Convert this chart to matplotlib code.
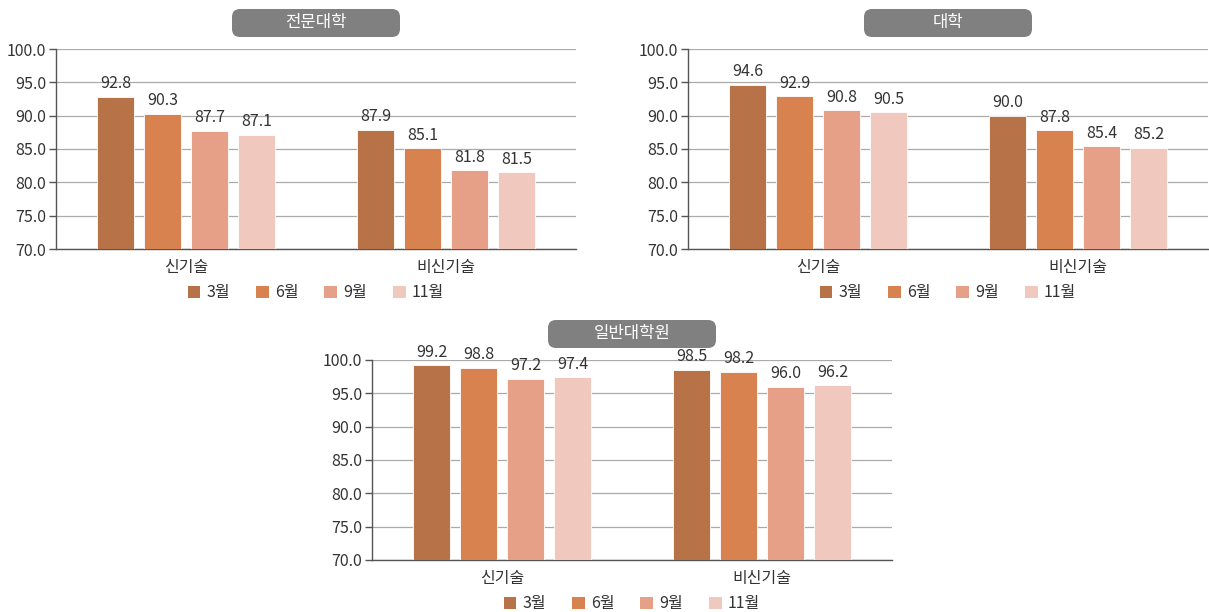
import matplotlib
matplotlib.use('Agg')
import matplotlib.pyplot as plt
from matplotlib.patches import FancyBboxPatch, Patch
from matplotlib.transforms import IdentityTransform
import numpy as np

plt.rcParams['font.family'] = ['Noto Sans CJK KR', 'DejaVu Sans']

categories = ['신기술', '비신기술']
months = ['3월', '6월', '9월', '11월']
colors = ['#B87248', '#D8834F', '#E6A088', '#F0C8BD']

panel_titles = ['전문대학', '대학', '일반대학원']
# values[month][category]
junior = [[92.8, 87.9], [90.3, 85.1], [87.7, 81.8], [87.1, 81.5]]
univ = [[94.6, 90.0], [92.9, 87.8], [90.8, 85.4], [90.5, 85.2]]
grad = [[99.2, 98.5], [98.8, 98.2], [97.2, 96.0], [97.4, 96.2]]
yticks = [70.0, 75.0, 80.0, 85.0, 90.0, 95.0, 100.0]

W, H = 1209, 612
fig = plt.figure(figsize=(W / 100, H / 100), dpi=100)

# axes rects in pixels: left, top-of-axis y (100.0), bottom y (70.0)
rects = [(56, 49, 249), (688, 49, 249), (372, 360, 560)]
axw = 520
txt = '#333333'
fs = 11.5


def draw_panel(rect, title, data):
    left, top, bot = rect
    ax = fig.add_axes([left / W, 1 - bot / H, axw / W, (bot - top) / H])
    x = np.arange(len(categories))
    bw = 0.14
    step = 0.181
    for i, m in enumerate(months):
        pos = x + (i - 1.5) * step
        bars = ax.bar(pos, data[i], width=bw, bottom=0, color=colors[i],
                      edgecolor='white', linewidth=0.6, zorder=3)
        for b, v in zip(bars, data[i]):
            ax.text(b.get_x() + b.get_width() / 2, v + 0.7, f'{v:.1f}',
                    ha='center', va='bottom', fontsize=fs, color=txt, zorder=4)
    ax.set_xlim(-0.5, 1.5)
    ax.set_ylim(70, 100)
    ax.set_yticks(yticks)
    ax.set_yticklabels([f'{t:.1f}' for t in yticks], fontsize=fs, color=txt)
    ax.set_xticks(x)
    ax.set_xticklabels(categories, fontsize=fs, color=txt)
    ax.tick_params(axis='x', length=0, pad=7)
    ax.tick_params(axis='y', length=5, width=1, color='#555555', pad=2)
    ax.grid(axis='y', color='#AAAAAA', linewidth=0.9, zorder=0)
    ax.set_axisbelow(True)
    for s in ['top', 'right']:
        ax.spines[s].set_visible(False)
    ax.spines['left'].set_color('#555555')
    ax.spines['bottom'].set_color('#555555')
    ax.spines['left'].set_linewidth(1)
    ax.spines['bottom'].set_linewidth(1)

    # title box
    cx = left + axw / 2
    bw_px, bh_px = 168, 28
    ty = top - 12 - bh_px
    box = FancyBboxPatch((cx - bw_px / 2, H - ty - bh_px), bw_px, bh_px,
                         boxstyle='round,pad=0,rounding_size=8',
                         transform=IdentityTransform(), facecolor='#808080',
                         edgecolor='none', zorder=5)
    fig.patches.append(box)
    fig.text(cx / W, 1 - (ty + bh_px / 2) / H, title, ha='center', va='center',
             fontsize=12, color='white', zorder=6)

    handles = [Patch(facecolor=c, edgecolor='none') for c in colors]
    ax.legend(handles, months, loc='upper center', bbox_to_anchor=(0.5, -0.12),
              ncol=4, frameon=False, fontsize=fs, handlelength=0.8,
              handleheight=0.8, handletextpad=0.4, columnspacing=1.6,
              labelcolor=txt, borderpad=0.2)


for r, t, d in zip(rects, panel_titles, [junior, univ, grad]):
    draw_panel(r, t, d)

fig.savefig('out.png', dpi=100)
